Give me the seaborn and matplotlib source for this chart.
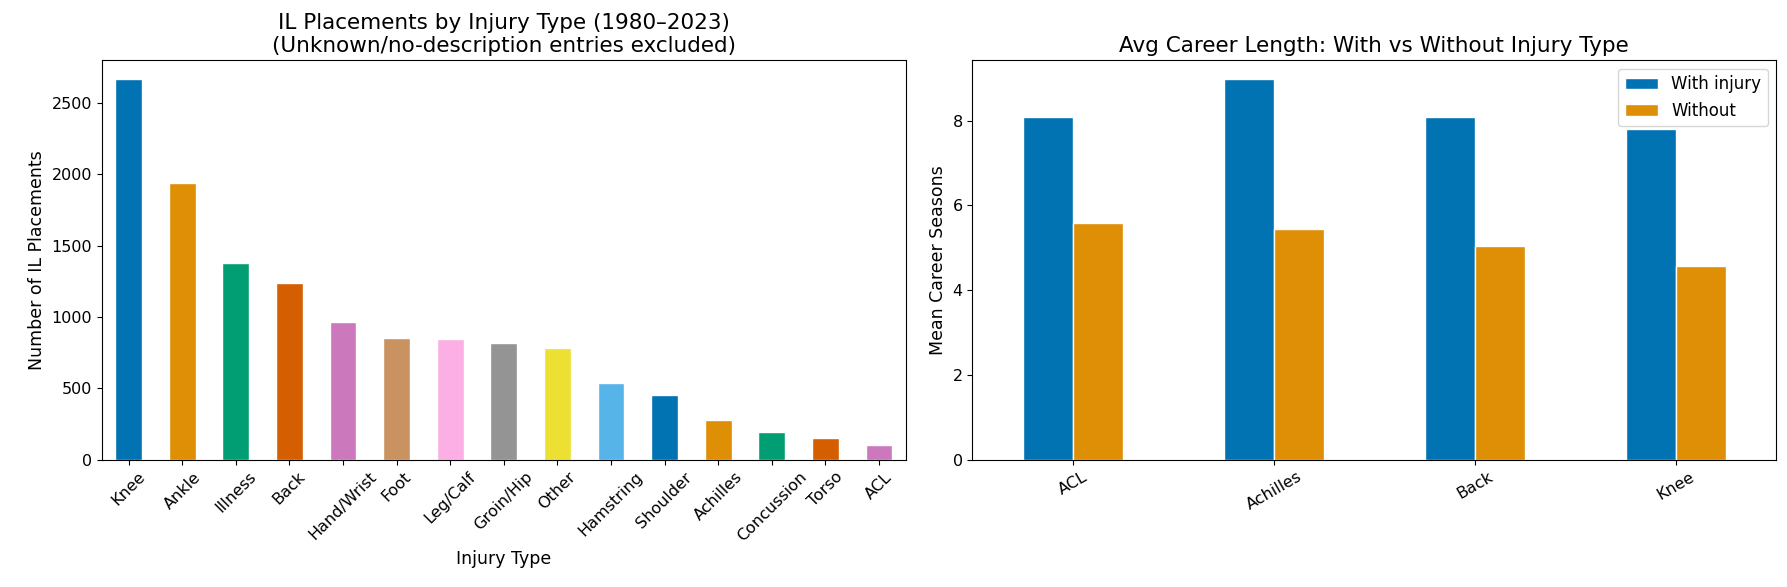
import matplotlib
matplotlib.use("Agg")
import matplotlib.pyplot as plt
import seaborn as sns
import pandas as pd

# IL placements per injury type
injury_types = ['Knee', 'Ankle', 'Illness', 'Back', 'Hand/Wrist', 'Foot', 'Leg/Calf',
                'Groin/Hip', 'Other', 'Hamstring', 'Shoulder', 'Achilles',
                'Concussion', 'Torso', 'ACL']
placements = [2665, 1940, 1378, 1240, 965, 855, 845, 820, 785, 540, 455, 278, 193, 150, 100]

# Avg career length with / without injury type
career_types = ['ACL', 'Achilles', 'Back', 'Knee']
with_injury = [8.09, 8.97, 8.09, 7.79]
without_injury = [5.58, 5.43, 5.05, 4.56]

pal = sns.color_palette('colorblind', 10)

fig, axes = plt.subplots(1, 2, figsize=(17.87, 5.87), dpi=100)

# Left: counts per injury type
counts_df = pd.DataFrame({'Injury Type': injury_types, 'Count': placements})
bar_colors = [pal[i % 10] for i in range(len(injury_types))]
sns.barplot(data=counts_df, x='Injury Type', y='Count', hue='Injury Type',
            palette=bar_colors, legend=False, width=0.5, edgecolor='white',
            saturation=1, ax=axes[0])
axes[0].set_title('IL Placements by Injury Type (1980\u20132023)\n(Unknown/no-description entries excluded)',
                  fontsize=15.5)
axes[0].set_xlabel('Injury Type', fontsize=12.5)
axes[0].set_ylabel('Number of IL Placements', fontsize=12.5)
axes[0].tick_params(axis='x', labelrotation=45, labelsize=11.5)
axes[0].tick_params(axis='y', labelsize=11.5)
axes[0].set_xlim(-0.5, len(injury_types) - 0.5)

# Right: grouped bars
career_df = pd.DataFrame({
    'Injury': career_types * 2,
    'Seasons': with_injury + without_injury,
    'Group': ['With injury'] * 4 + ['Without'] * 4,
})
sns.barplot(data=career_df, x='Injury', y='Seasons', hue='Group',
            palette=[pal[0], pal[1]], width=0.5, edgecolor='white',
            saturation=1, ax=axes[1])
axes[1].set_title('Avg Career Length: With vs Without Injury Type', fontsize=15.5)
axes[1].set_xlabel('')
axes[1].set_ylabel('Mean Career Seasons', fontsize=12.5)
axes[1].tick_params(axis='x', labelrotation=30, labelsize=11.5)
axes[1].tick_params(axis='y', labelsize=11.5)
axes[1].set_xlim(-0.5, len(career_types) - 0.5)
axes[1].legend(loc='upper right', fontsize=12)

fig.subplots_adjust(left=0.057, right=0.994, bottom=0.217, top=0.897, wspace=0.083)
plt.savefig('out.png')
